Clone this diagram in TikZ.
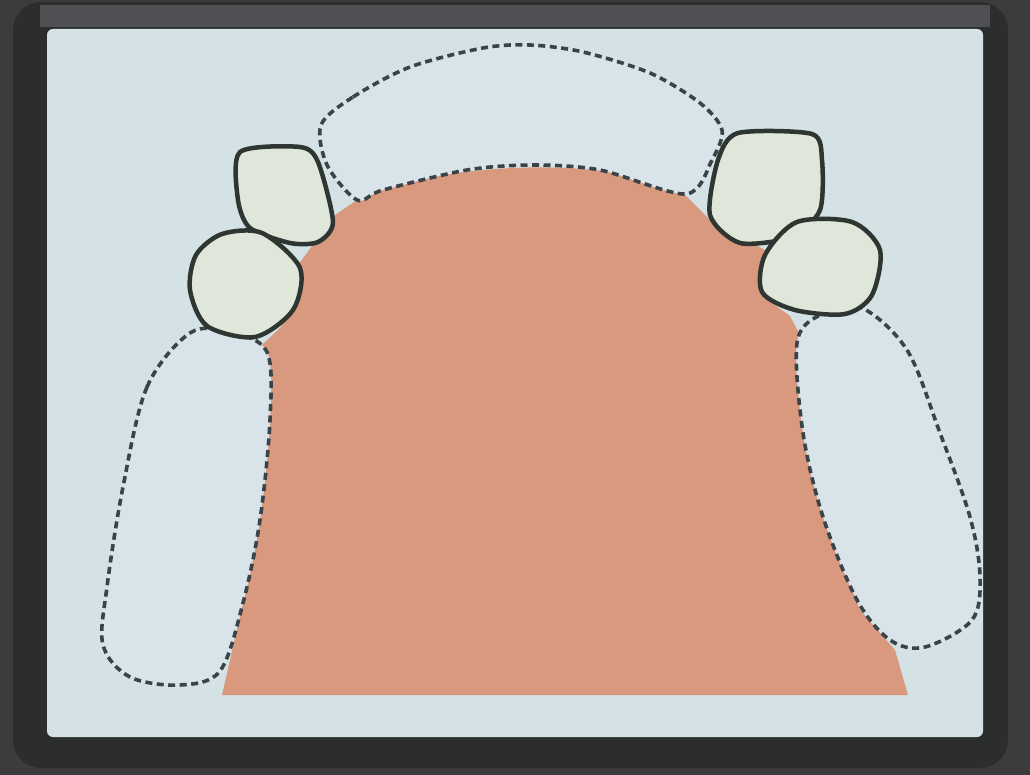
\documentclass[tikz,border=0pt]{standalone}
\begin{document}
\begin{tikzpicture}[x=1pt,y=-1pt,
  outline/.style={draw=toothline, line width=4.5pt, line join=round},
  margin/.style={draw=dashline, line width=3.6pt, dash pattern=on 7pt off 4.5pt, line join=round},
  toothshape/.style={outline, fill=toothfill},
  gumshape/.style={margin, fill=gumfill}]
\definecolor{outerbg}{HTML}{3C3C3C}
\definecolor{framecol}{HTML}{2B2E2C}
\definecolor{topband}{HTML}{4F5053}
\definecolor{panel}{HTML}{D4E2E6}
\definecolor{palate}{HTML}{D8997F}
\definecolor{toothfill}{HTML}{DFE7DA}
\definecolor{gumfill}{HTML}{D8E4EA}
\definecolor{toothline}{HTML}{2F3631}
\definecolor{dashline}{HTML}{3A4448}

\useasboundingbox (0,0) rectangle (1030,775);
\fill[outerbg] (0,0) rectangle (1030,775);

% frame and panel
\fill[framecol, rounded corners=28pt] (13,2) rectangle (1008,768);
\fill[topband] (40,5) rectangle (990,27);
\fill[panel, rounded corners=6pt] (47,29) rectangle (983,737);

% palate
\fill[palate] (222,695) -- (243,603) -- (262,500) -- (270,400) -- (262,345)
  -- (280,328) -- (292,310) -- (298,265) -- (318,238) -- (335,215) -- (357,200)
  .. controls (440,160) and (620,155) .. (685,195)
  -- (712,222) -- (765,250) -- (768,300) -- (790,316) -- (800,335)
  -- (805,440) -- (830,530)
  -- (860,610) -- (895,650) -- (908,695) -- cycle;

% posterior segments (dashed)
\draw[gumshape] plot[smooth cycle, tension=0.55] coordinates {
  (190,333) (147,387) (123,487) (107,587) (103,645) (130,677) (180,685)
  (220,671) (243,603) (260,520) (270,420) (267,352) (230,332)};
\draw[gumshape] plot[smooth cycle, tension=0.55] coordinates {
  (860,307) (907,350) (940,433) (970,517) (980,577) (972,620) (925,647)
  (890,640) (857,600) (823,517) (803,433) (797,343) (820,315)};

% anterior segment (dashed)
\draw[gumshape] plot[smooth cycle, tension=0.5] coordinates {
  (321,125) (353,97) (410,67) (483,48) (530,45) (583,52) (650,73)
  (700,103) (722,130) (712,160) (686,194) (600,170) (533,165)
  (467,170) (383,190) (357,200) (327,165)};

% canines and premolars
\draw[toothshape] plot[smooth cycle, tension=0.45] coordinates {
  (240,152) (300,147) (318,162) (333,222) (318,242) (290,243) (250,228) (238,200)};
\draw[toothshape] plot[smooth cycle, tension=0.5] coordinates {
  (222,234) (262,233) (300,268) (293,310) (255,337) (207,326) (190,290) (196,255)};
\draw[toothshape] plot[smooth cycle, tension=0.45] coordinates {
  (738,133) (812,134) (822,160) (820,210) (792,237) (740,243) (710,215) (718,160)};
\draw[toothshape] plot[smooth cycle, tension=0.5] coordinates {
  (797,222) (852,222) (880,250) (872,295) (845,314) (795,310) (762,292) (765,255)};
\end{tikzpicture}
\end{document}
